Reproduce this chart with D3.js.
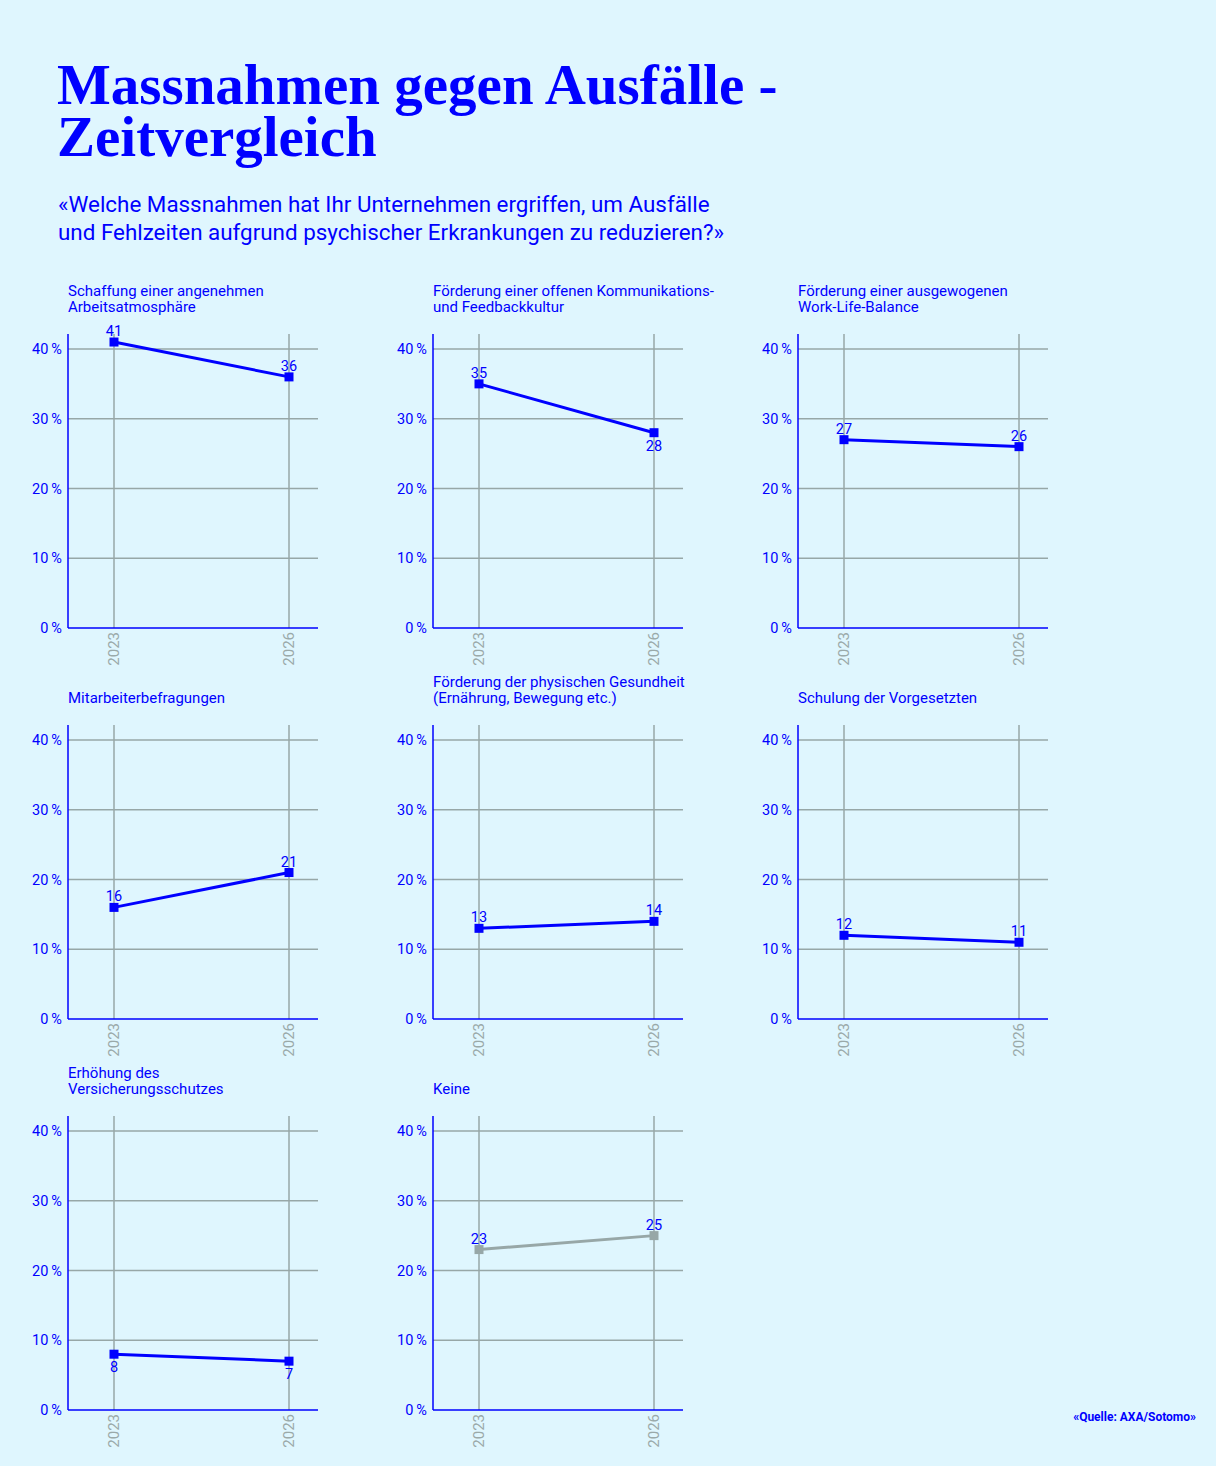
<!DOCTYPE html>
<html>
<head>
<meta charset="utf-8">
<script src="https://cdn.jsdelivr.net/npm/d3@7"></script>
<style>
  body { margin: 0; background: #dff6fe; }
  svg { display: block; }
  text { font-family: Roboto, "Noto Sans", sans-serif; }
</style>
</head>
<body>
<svg id="chart" width="1216" height="1466"></svg>
<script>
// Data
var years = ['2023', '2026'];
var titles = [
  ['Schaffung einer angenehmen', 'Arbeitsatmosphäre'],
  ['Förderung einer offenen Kommunikations-', 'und Feedbackkultur'],
  ['Förderung einer ausgewogenen', 'Work-Life-Balance'],
  ['Mitarbeiterbefragungen'],
  ['Förderung der physischen Gesundheit', '(Ernährung, Bewegung etc.)'],
  ['Schulung der Vorgesetzten'],
  ['Erhöhung des', 'Versicherungsschutzes'],
  ['Keine']
];
var values = [
  [41, 36],
  [35, 28],
  [27, 26],
  [16, 21],
  [13, 14],
  [12, 11],
  [8, 7],
  [23, 25]
];
// label under the point instead of above
var labelBelow = [
  [false, false],
  [false, true],
  [false, false],
  [false, false],
  [false, false],
  [false, false],
  [true, true],
  [false, false]
];
var yTicks = [0, 10, 20, 30, 40];

var blue = '#0000ff';
var grey = '#97a7a7';

var svg = d3.select('#chart');

// Header (one text element per block, lines as tspans)
var titleLines = ['Massnahmen gegen Ausfälle -', 'Zeitvergleich'];
var head = svg.append('text')
    .attr('y', 104)
    .style('font-family', '"Liberation Serif", serif')
    .style('font-weight', 'bold')
    .style('font-size', '57px')
    .attr('fill', blue);
head.selectAll('tspan')
    .data(titleLines)
  .enter().append('tspan')
    .attr('x', 57)
    .attr('dy', function(d, i) { return i === 0 ? 0 : 52; })
    .text(function(d) { return d; });

var subLines = ['«Welche Massnahmen hat Ihr Unternehmen ergriffen, um Ausfälle',
                'und Fehlzeiten aufgrund psychischer Erkrankungen zu reduzieren?»'];
var sub = svg.append('text')
    .attr('y', 212)
    .style('font-size', '22.4px')
    .attr('fill', blue);
sub.selectAll('tspan')
    .data(subLines)
  .enter().append('tspan')
    .attr('x', 58)
    .attr('dy', function(d, i) { return i === 0 ? 0 : 28; })
    .text(function(d) { return d; });

svg.append('text')
    .attr('x', 1196).attr('y', 1421)
    .attr('text-anchor', 'end')
    .style('font-size', '12px')
    .style('font-weight', 'bold')
    .attr('fill', blue)
    .text('«Quelle: AXA/Sotomo»');

// Panels
var plotW = 250, plotH = 294;
var x = d3.scalePoint().domain(years).range([46, 221]);
var y = d3.scaleLinear().domain([0, 40]).range([plotH, plotH - 279]);

values.forEach(function(vals, i) {
  var col = i % 3, row = Math.floor(i / 3);
  var g = svg.append('g')
      .attr('transform', 'translate(' + (68 + col * 365) + ',' + (334 + row * 391) + ')');
  var color = i === values.length - 1 ? grey : blue;

  // title, bottom aligned
  var lines = titles[i];
  lines.forEach(function(t, j) {
    g.append('text')
        .attr('x', 0)
        .attr('y', -22 - (lines.length - 1 - j) * 16)
        .style('font-size', '15px')
        .attr('fill', blue)
        .text(t);
  });

  // horizontal grid
  g.selectAll('line.h')
      .data(yTicks.slice(1))
    .enter().append('line')
      .attr('x1', 0).attr('x2', plotW)
      .attr('y1', function(d) { return y(d); })
      .attr('y2', function(d) { return y(d); })
      .attr('stroke', grey).attr('stroke-width', 1.5);

  // vertical grid
  g.selectAll('line.v')
      .data(years)
    .enter().append('line')
      .attr('x1', function(d) { return x(d); })
      .attr('x2', function(d) { return x(d); })
      .attr('y1', 0).attr('y2', plotH)
      .attr('stroke', grey).attr('stroke-width', 1.5);

  // y axis labels
  g.selectAll('text.yt')
      .data(yTicks)
    .enter().append('text')
      .attr('x', -6)
      .attr('y', function(d) { return y(d) + 5; })
      .attr('text-anchor', 'end')
      .style('font-size', '14.5px')
      .attr('fill', blue)
      .text(function(d) { return d + '\u2009%'; });

  // x axis labels
  g.selectAll('text.xt')
      .data(years)
    .enter().append('text')
      .attr('transform', function(d) {
        return 'translate(' + (x(d) + 5) + ',' + (plotH + 4) + ') rotate(-90)';
      })
      .attr('text-anchor', 'end')
      .style('font-size', '15px')
      .attr('fill', '#9aa9a9')
      .text(function(d) { return d; });

  // axes
  g.append('line')
      .attr('x1', 0).attr('x2', 0).attr('y1', 0).attr('y2', plotH)
      .attr('stroke', blue).attr('stroke-width', 1.5);
  g.append('line')
      .attr('x1', 0).attr('x2', plotW).attr('y1', plotH).attr('y2', plotH)
      .attr('stroke', blue).attr('stroke-width', 1.5);

  var pts = years.map(function(yr, k) { return { year: yr, v: vals[k], below: labelBelow[i][k] }; });

  g.append('path')
      .datum(pts)
      .attr('fill', 'none')
      .attr('stroke', color)
      .attr('stroke-width', 3)
      .attr('d', d3.line()
        .x(function(d) { return x(d.year); })
        .y(function(d) { return y(d.v); }));

  g.selectAll('rect.pt')
      .data(pts)
    .enter().append('rect')
      .attr('x', function(d) { return x(d.year) - 4.5; })
      .attr('y', function(d) { return y(d.v) - 4.5; })
      .attr('width', 9).attr('height', 9)
      .attr('fill', color);

  g.selectAll('text.val')
      .data(pts)
    .enter().append('text')
      .attr('x', function(d) { return x(d.year); })
      .attr('y', function(d) { return y(d.v) + (d.below ? 18 : -6); })
      .attr('text-anchor', 'middle')
      .style('font-size', '14.5px')
      .attr('fill', blue)
      .text(function(d) { return d.v; });
});
</script>
</body>
</html>
